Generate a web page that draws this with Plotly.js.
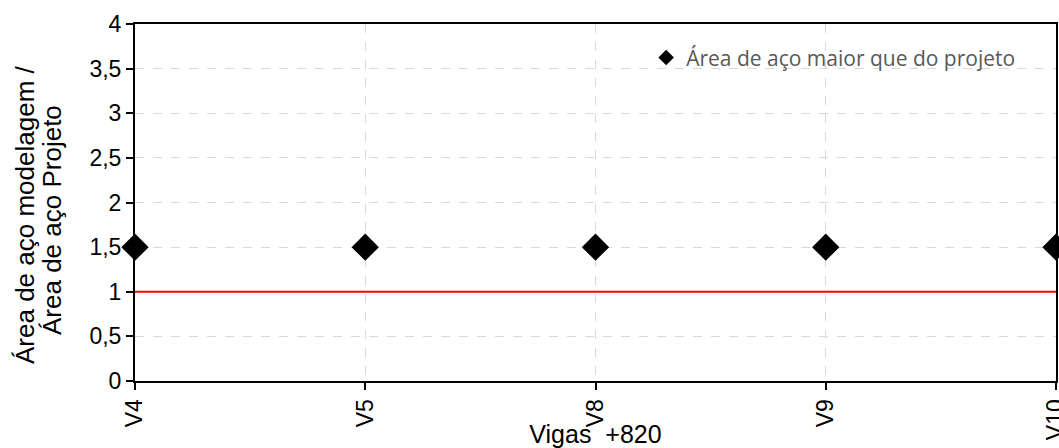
<!DOCTYPE html>
<html>
<head>
<meta charset="utf-8">
<script src="https://cdn.plot.ly/plotly-3.0.1.min.js"></script>
<style>html,body{margin:0;padding:0;background:#fff;}#chart{width:1059px;height:448px;}</style>
</head>
<body>
<div id="chart"></div>
<script>
var categories = ["V4", "V5", "V8", "V9", "V10"];
var ratioValues = [1.5, 1.5, 1.5, 1.5, 1.5];
var referenceValues = [1, 1, 1, 1, 1];
var yTickVals = [0, 0.5, 1, 1.5, 2, 2.5, 3, 3.5, 4];
var seriesName = "Área de aço maior que do projeto";
var yTitleLines = ["Área de aço modelagem /", "Área de aço Projeto"];
var xTitle = "Vigas  +820";

var traces = [
  {
    x: categories, y: referenceValues, type: "scatter", mode: "lines",
    line: {color: "#ff0000", width: 2}, showlegend: false, hoverinfo: "skip", cliponaxis: false
  },
  {
    x: categories, y: ratioValues, type: "scatter", mode: "markers", name: seriesName,
    marker: {symbol: "diamond", size: 21, color: "#000000"}, cliponaxis: false
  }
];

var layout = {
  width: 1059, height: 448,
  margin: {l: 135, r: 3, t: 24, b: 67, pad: 0},
  paper_bgcolor: "#ffffff", plot_bgcolor: "#ffffff",
  separators: ",.",
  font: {family: "Liberation Sans, Arial, sans-serif", size: 17, color: "#000"},
  showlegend: true,
  legend: {
    x: 0.555, y: 0.905, xanchor: "left", yanchor: "middle",
    bgcolor: "rgba(0,0,0,0)", itemwidth: 30, itemsizing: "constant",
    font: {family: "Open Sans, sans-serif", size: 21, color: "#595959"}
  },
  xaxis: {
    type: "category", range: [0, 4], tickangle: -90,
    showline: true, linecolor: "#000", linewidth: 2, mirror: true,
    ticks: "outside", ticklen: 7, tickwidth: 2, tickcolor: "#000",
    showgrid: true, gridcolor: "#d9d9d9", griddash: "dash", gridwidth: 1,
    zeroline: false,
    tickfont: {size: 23},
    title: {text: xTitle, font: {size: 25}, standoff: 0}
  },
  yaxis: {
    range: [0, 4], tickvals: yTickVals,
    showline: true, linecolor: "#000", linewidth: 2, mirror: true,
    ticks: "outside", ticklen: 7, tickwidth: 2, tickcolor: "#000",
    showgrid: true, gridcolor: "#d9d9d9", griddash: "dash", gridwidth: 1,
    zeroline: false,
    tickfont: {size: 23}
  },
  annotations: [
    {text: yTitleLines[0], xref: "paper", yref: "paper", x: 0, y: 0.465, xshift: -110,
     xanchor: "center", yanchor: "middle", textangle: -90, showarrow: false,
     font: {size: 26, color: "#000"}},
    {text: yTitleLines[1], xref: "paper", yref: "paper", x: 0, y: 0.451, xshift: -83,
     xanchor: "center", yanchor: "middle", textangle: -90, showarrow: false,
     font: {size: 26, color: "#000"}}
  ]
};

Plotly.newPlot("chart", traces, layout, {displayModeBar: false, staticPlot: true});
</script>
</body>
</html>
